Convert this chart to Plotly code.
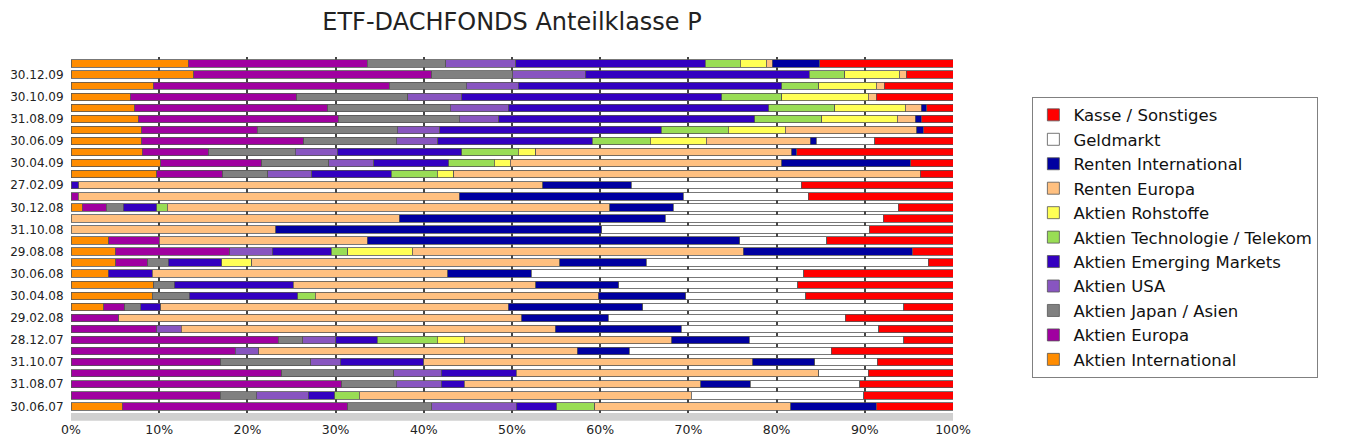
import plotly.graph_objects as go

dates = ["30.06.07", "31.07.07", "31.08.07", "28.09.07", "31.10.07", "30.11.07", "28.12.07",
         "31.01.08", "29.02.08", "31.03.08", "30.04.08", "30.05.08", "30.06.08", "31.07.08",
         "29.08.08", "30.09.08", "31.10.08", "28.11.08", "30.12.08", "30.01.09", "27.02.09",
         "31.03.09", "30.04.09", "29.05.09", "30.06.09", "31.07.09", "31.08.09", "30.09.09",
         "30.10.09", "30.11.09", "30.12.09", "29.01.10"]
shown_labels = dates[0:31:2]
pct_ticks = list(range(0, 101, 10))
pct_labels = [f"{v}%" for v in pct_ticks]

aktien_international = [5.8, 0, 0, 0, 0, 0, 0, 0, 0, 3.7, 9.2, 9.4, 4.2, 5.1, 5.0, 4.3, 0, 0, 1.3, 0, 0,
                        9.7, 10.2, 8.1, 8.0, 8.0, 7.6, 7.2, 6.7, 9.3, 13.9, 13.3]
aktien_europa = [25.6, 16.9, 30.7, 23.9, 17.0, 18.6, 23.5, 9.7, 5.4, 2.4, 0, 0, 0, 3.6, 13.0, 5.7, 0, 0, 2.7, 0.8, 0,
                 7.5, 11.4, 7.5, 18.4, 13.1, 22.7, 21.9, 18.9, 26.8, 27.0, 20.3]
aktien_japan = [9.5, 4.1, 6.2, 12.7, 10.2, 0, 2.8, 0, 0, 1.8, 4.2, 2.3, 0, 2.3, 0, 0, 0, 0, 1.9, 0, 0,
                5.1, 7.6, 9.8, 10.5, 15.9, 13.7, 13.9, 12.6, 8.7, 9.2, 8.9]
aktien_usa = [9.6, 5.9, 5.1, 5.4, 3.3, 2.7, 3.7, 2.8, 0, 0, 0, 0, 0, 0, 4.8, 0, 0, 0, 0, 0, 0,
              5.0, 5.1, 4.8, 4.7, 4.8, 4.5, 6.6, 6.1, 5.9, 8.2, 7.9]
aktien_em = [4.6, 3.0, 2.6, 8.5, 9.5, 0, 4.7, 0, 0, 2.3, 12.3, 13.5, 5.0, 6.1, 6.7, 0, 0, 0, 3.8, 0, 0.9,
             9.0, 8.5, 14.1, 17.5, 25.1, 29.0, 29.5, 29.5, 29.9, 25.4, 21.5]
aktien_tech = [4.3, 2.8, 0, 0, 0, 0, 6.8, 0, 0, 0, 2.0, 0, 0, 0, 1.9, 0, 0, 0, 1.2, 0, 0,
               5.2, 5.2, 6.4, 6.6, 7.6, 7.6, 7.5, 6.8, 4.2, 4.0, 4.0]
aktien_rohstoffe = [0, 0, 0, 0, 0, 0, 3.1, 0, 0, 0, 0, 0, 0, 3.4, 7.3, 0, 0, 0, 0, 0, 0,
                    1.9, 1.8, 2.0, 6.3, 6.5, 8.6, 8.0, 9.8, 6.5, 6.2, 2.9]
renten_europa = [22.2, 37.6, 26.8, 34.3, 37.3, 36.1, 23.5, 42.4, 45.7, 39.4, 32.1, 27.5, 33.5, 34.9, 37.5, 23.6,
                 23.2, 37.2, 50.2, 43.2, 52.6, 52.9, 30.8, 29.0, 11.8, 14.9, 2.0, 1.8, 0.9, 0.9, 0.8, 0.7]
renten_international = [9.7, 0, 5.6, 0, 7.0, 5.9, 8.8, 14.3, 9.8, 15.2, 9.9, 9.4, 9.5, 9.8, 19.2, 42.2,
                        37.0, 30.2, 7.2, 25.4, 10.0, 0, 14.6, 0.6, 0.7, 0.7, 0.7, 0.6, 0, 0, 0, 5.4]
geldmarkt = [0, 19.6, 12.4, 5.6, 7.1, 22.9, 17.5, 22.4, 26.9, 29.6, 13.6, 20.3, 30.9, 32.0, 0, 9.9,
             30.3, 24.7, 25.5, 14.2, 19.3, 0, 0, 0, 6.6, 0, 0, 0, 0, 0, 0, 0]
kasse = [8.7, 10.1, 10.6, 9.6, 8.6, 13.8, 5.6, 8.4, 12.2, 5.6, 16.7, 17.6, 16.9, 2.8, 4.6, 14.3,
         9.5, 7.9, 6.2, 16.4, 17.2, 3.7, 4.8, 17.7, 8.9, 3.4, 3.6, 3.0, 8.7, 7.8, 5.3, 15.1]

series = [
    ("Aktien International", aktien_international, "#FF8C00"),
    ("Aktien Europa", aktien_europa, "#A000A0"),
    ("Aktien Japan / Asien", aktien_japan, "#808080"),
    ("Aktien USA", aktien_usa, "#8855C0"),
    ("Aktien Emerging Markets", aktien_em, "#3300C0"),
    ("Aktien Technologie / Telekom", aktien_tech, "#99DD55"),
    ("Aktien Rohstoffe", aktien_rohstoffe, "#FFFF55"),
    ("Renten Europa", renten_europa, "#FFC080"),
    ("Renten International", renten_international, "#0000A0"),
    ("Geldmarkt", geldmarkt, "#FFFFFF"),
    ("Kasse / Sonstiges", kasse, "#FF0000"),
]

fig = go.Figure()
for name, vals, color in series:
    fig.add_trace(go.Bar(
        y=dates, x=[v if v else None for v in vals], name=name, orientation="h",
        marker=dict(color=color, line=dict(color="#555555", width=0.8)),
    ))

fig.update_layout(
    width=1353, height=441,
    barmode="stack", barnorm="percent", bargap=0.33,
    paper_bgcolor="white", plot_bgcolor="white",
    margin=dict(l=63, r=408, t=49, b=36, autoexpand=False),
    font=dict(family="DejaVu Sans", color="#222222"),
    title=dict(text="ETF-DACHFONDS Anteilklasse P", x=504 / 1353, xanchor="center",
               y=1 - 14 / 441, yanchor="middle", font=dict(size=24, color="#222222")),
    xaxis=dict(range=[0, 100], tickvals=pct_ticks, ticktext=pct_labels, automargin=False,
               showgrid=True, gridcolor="#444444", gridwidth=1.5, zeroline=False,
               tickfont=dict(size=12.5, color="#222222"), ticks="outside", ticklen=5,
               tickcolor="rgba(0,0,0,0)", showline=False),
    yaxis=dict(type="category", categoryorder="array", categoryarray=dates, automargin=False,
               tickvals=shown_labels, ticktext=shown_labels, showgrid=False,
               tickfont=dict(size=12, color="#222222"), ticks="outside", ticklen=4,
               tickcolor="rgba(0,0,0,0)", range=[-0.6, 31.6]),
    legend=dict(traceorder="reversed", x=1.09, xanchor="left", y=0.494, yanchor="middle",
                bordercolor="#808080", borderwidth=1, font=dict(size=16.5, color="#111111"),
                itemwidth=30, tracegroupgap=0),
    shapes=[dict(type="rect", xref="paper", yref="paper", x0=0, x1=1, y0=-0.022, y1=0,
                 fillcolor="#D0D0D0", line=dict(width=0), layer="below")],
)

fig.write_html("out.html")
